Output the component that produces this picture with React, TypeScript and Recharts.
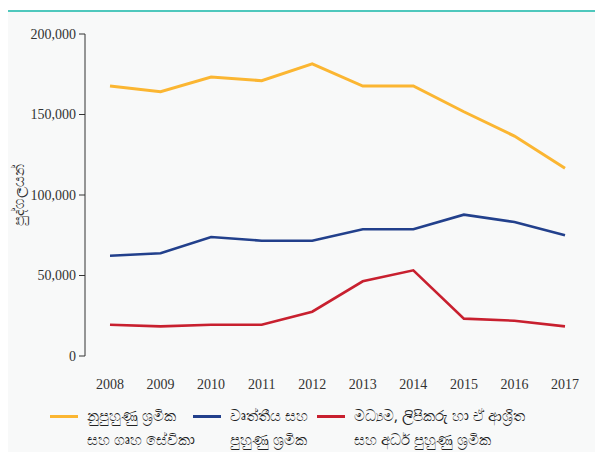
import { LineChart, Line, XAxis, YAxis } from "recharts";

const years = ["2008", "2009", "2010", "2011", "2012", "2013", "2014", "2015", "2016", "2017"];
const unskilled = [167700, 164200, 173300, 171000, 181400, 167700, 167700, 151700, 136600, 116600];
const skilled = [62300, 63800, 73900, 71600, 71600, 78700, 78700, 87800, 83200, 75000];
const middle = [19400, 18400, 19400, 19400, 27500, 46400, 53200, 23200, 21900, 18400];
const yTicks = [0, 50000, 100000, 150000, 200000];
const bandEdges = [0, 1, 2, 3, 4, 5, 6, 7, 8, 9, 10];

const seriesNames = [
  ["නුපුහුණු ශ්‍රමික", "සහ ගෘහ සේවිකා"],
  ["වෘත්තීය සහ", "පුහුණු ශ්‍රමික"],
  ["මධ්‍යම, ලිපිකරු හා ඒ ආශ්‍රිත", "සහ අර්ධ පුහුණු ශ්‍රමික"],
];
const yLabel = "පුද්ගලයන්";

const COLORS = ["#fbb632", "#22408c", "#c8202f"];
const AXIS = "#333333";
const SERIF = "'Liberation Serif', 'DejaVu Serif', serif";

const data = years.map((year, i) => ({
  year,
  unskilled: unskilled[i],
  skilled: skilled[i],
  middle: middle[i],
}));

const fmt = (v: number) => v.toLocaleString("en-US");

// rotated axis title, centred on the plot height
function YTitle({ viewBox }: any) {
  if (!viewBox) return null;
  const cx = viewBox.x + 10;
  const cy = viewBox.y + viewBox.height / 2;
  return (
    <text
      x={cx}
      y={cy}
      transform={`rotate(-90 ${cx} ${cy})`}
      textAnchor="middle"
      dominantBaseline="central"
      fill={AXIS}
      fontSize={15}
      fontFamily="'Noto Sans', sans-serif"
    >
      {yLabel}
    </text>
  );
}

const legendWidths = [143, 124, 260];

export default function App() {
  return (
    <div style={{ paddingTop: 2 }}>
      <div
        style={{
          width: 595,
          height: 442,
          background: "#f8f9f9",
          borderTop: "2px solid #4fc8bd",
          boxSizing: "border-box",
          fontFamily: "'Noto Sans', sans-serif",
        }}
      >
        <LineChart
          width={595}
          height={384}
          data={data}
          margin={{ top: 22, right: 13, left: 0, bottom: 0 }}
        >
          {/* tick marks on the band boundaries */}
          <XAxis
            xAxisId="edges"
            type="number"
            domain={[0, 10]}
            ticks={bandEdges}
            tick={false}
            tickSize={6}
            height={0}
            stroke={AXIS}
          />
          <XAxis
            dataKey="year"
            padding={{ left: 25, right: 25 }}
            axisLine={false}
            tickLine={false}
            tickSize={6}
            tickMargin={17}
            height={40}
            interval={0}
            tick={{ fill: AXIS, fontSize: 14, fontFamily: SERIF }}
          />
          <YAxis
            width={77}
            domain={[0, 200000]}
            ticks={yTicks}
            tickFormatter={fmt}
            tickSize={6}
            tickMargin={3}
            stroke={AXIS}
            tick={{ fill: AXIS, fontSize: 14, fontFamily: SERIF }}
            label={<YTitle />}
          />
          <Line
            dataKey="unskilled"
            stroke={COLORS[0]}
            strokeWidth={3}
            dot={false}
            isAnimationActive={false}
          />
          <Line
            dataKey="skilled"
            stroke={COLORS[1]}
            strokeWidth={2.6}
            dot={false}
            isAnimationActive={false}
          />
          <Line
            dataKey="middle"
            stroke={COLORS[2]}
            strokeWidth={2.6}
            dot={false}
            isAnimationActive={false}
          />
        </LineChart>
        <div style={{ display: "flex", paddingLeft: 42, marginTop: 7 }}>
          {seriesNames.map((lines, i) => (
            <div key={i} style={{ display: "flex", width: legendWidths[i] }}>
              <div
                style={{
                  width: 28,
                  height: 3,
                  marginTop: 12,
                  marginRight: 9,
                  background: COLORS[i],
                  flexShrink: 0,
                }}
              />
              <div style={{ fontSize: 15, lineHeight: "24px", color: "#222" }}>
                {lines.map((l) => (
                  <div key={l} style={{ whiteSpace: "nowrap" }}>
                    {l}
                  </div>
                ))}
              </div>
            </div>
          ))}
        </div>
      </div>
    </div>
  );
}
